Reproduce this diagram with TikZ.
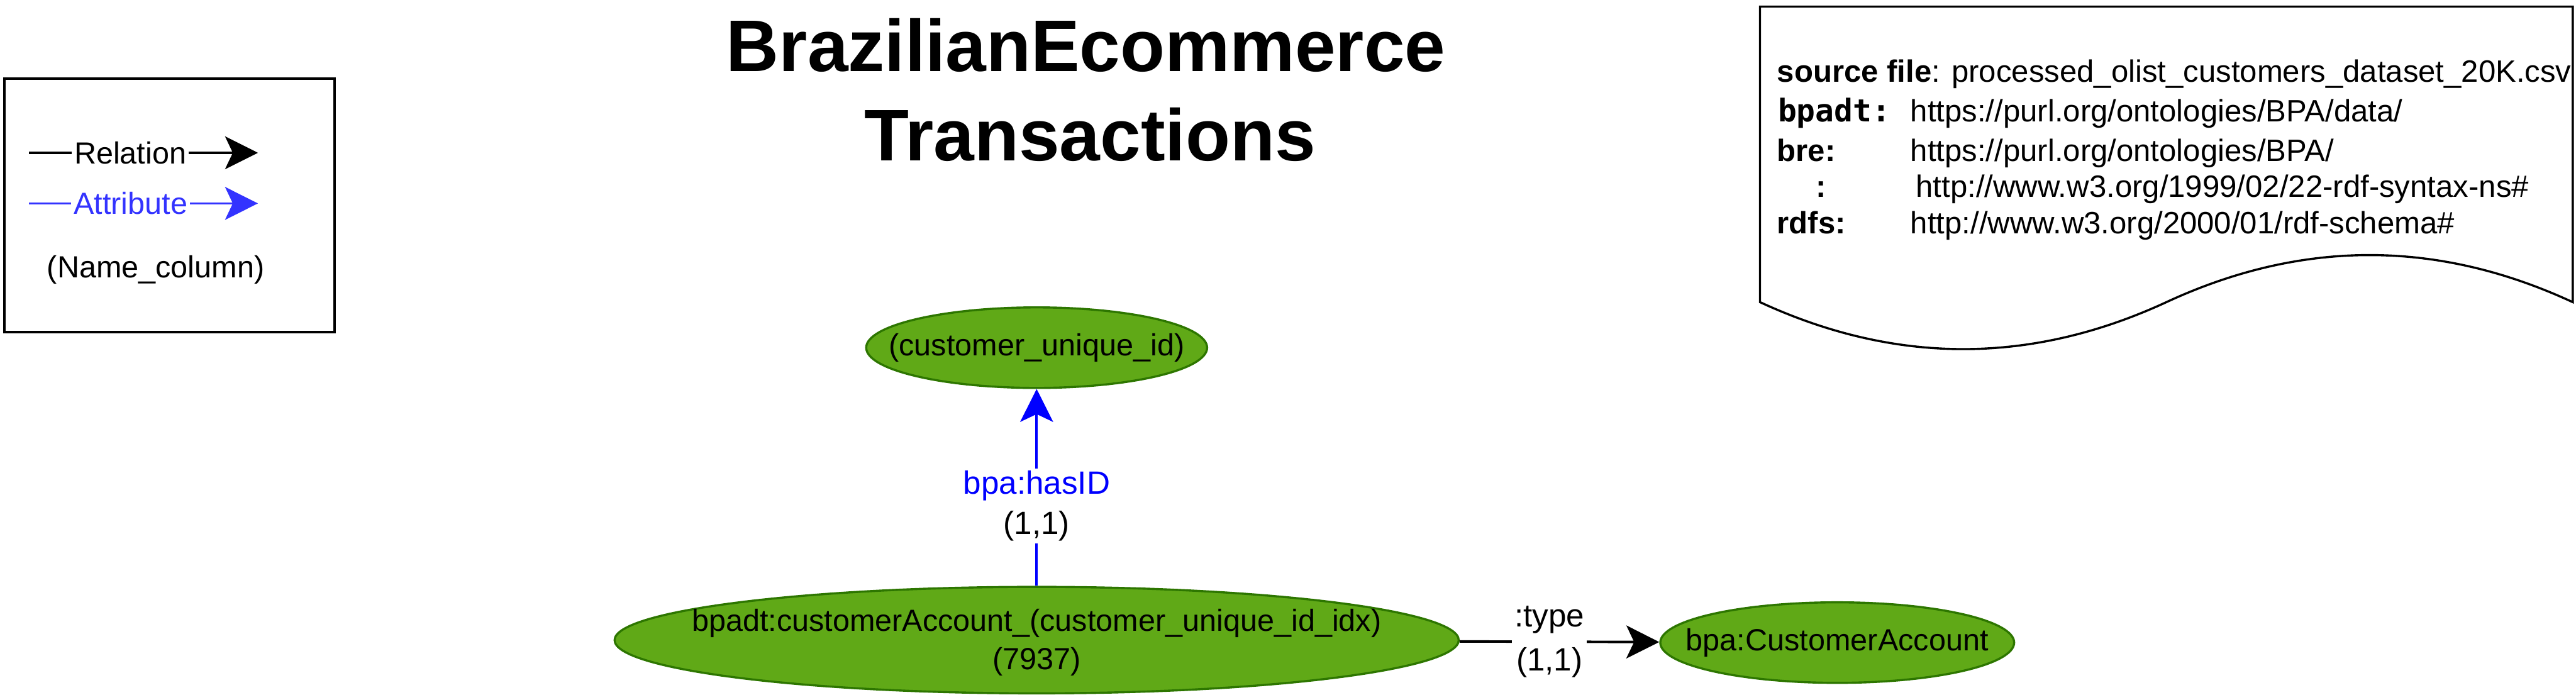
\documentclass[tikz,border=0pt]{standalone}
\usepackage{fontspec}
\setmainfont{Liberation Sans}
\newfontfamily\monofnt{DejaVu Sans Mono}
\usetikzlibrary{arrows.meta,shapes.geometric}
\definecolor{entfill}{HTML}{60A917}
\definecolor{entline}{HTML}{2D7600}
\definecolor{attrblue}{HTML}{0000FF}
\definecolor{legblue}{HTML}{3333FF}
\newcommand{\fsz}[1]{\fontsize{18.6}{#1}\selectfont}
\newcommand{\lsz}[1]{\fontsize{19.6}{#1}\selectfont}
\begin{document}
\begin{tikzpicture}[x=1pt,y=-1pt,
  ent/.style={ellipse, draw=entline, fill=entfill, line width=1.3pt, inner sep=0pt},
  etxt/.style={font=\fsz{23.3}, align=center, inner sep=0pt},
  arrtip/.style={-{Stealth[length=20pt,width=20pt,inset=4.7pt]}},
  relln/.style={arrtip, draw=black, line width=1.5pt},
  attrln/.style={arrtip, draw=attrblue, line width=1.5pt},
  lbl/.style={align=center, fill=white, inner xsep=1.5pt, inner ysep=1.5pt},
  legtxt/.style={font=\fsz{22}, fill=white, inner xsep=1.5pt, inner ysep=1pt},
  doctxt/.style={font=\fontsize{18.8}{22}\selectfont, anchor=base west, inner sep=0pt},
  titl/.style={font=\fontsize{44.5}{54}\selectfont\bfseries, anchor=base, inner sep=0pt},
]
\useasboundingbox (0,0) rectangle (1568,423);

% legend
\draw[line width=1.4pt] (2.8,47.9) rectangle (203.6,202);
\coordinate (rA) at (17.8,93);
\coordinate (rB) at (157,93);
\coordinate (aA) at (17.8,123.8);
\coordinate (aB) at (157,123.8);
\draw[arrtip, line width=1.3pt] (rA) -- node[legtxt, pos=0.442] (lrel) {Relation} (rB);
\draw[arrtip, line width=1.3pt, draw=legblue, fill=legblue] (aA) -- node[legtxt, pos=0.443, text=legblue] (latt) {Attribute} (aB);
\node[font=\fsz{22}, anchor=base, inner sep=0pt] (lname) at (94.8,169) {(Name\_column)};

% title
\node[titl] (t1) at (661,43.4) {BrazilianEcommerce};
\node[titl] (t2) at (663.5,97.9) {Transactions};

% document shape
\draw[line width=1.3pt, fill=white]
  (1071.3,4) -- (1566,4) -- (1566,183.9)
  .. controls (1483.5,145.7) and (1401.1,145.7) .. (1318.65,183.9)
  .. controls (1236.2,222.0) and (1153.8,222.0) .. (1071.3,183.9) -- cycle;
\node[doctxt] (d1) at (1081.5,50.1) {\textbf{source file}: processed\_olist\_customers\_dataset\_20K.csv};
\node[doctxt] (d2k) at (1082,73.9) {\monofnt\bfseries\fontsize{19}{22}\selectfont bpadt:};
\node[doctxt] (d2v) at (1162.7,73.9) {https://purl.org/ontologies/BPA/data/};
\node[doctxt] (d3k) at (1081.5,98.3) {\textbf{bre:}};
\node[doctxt] (d3v) at (1162.7,98.3) {https://purl.org/ontologies/BPA/};
\node[doctxt] (d4k) at (1105,120.2) {\textbf{:}};
\node[doctxt] (d4v) at (1166,120.2) {http://www.w3.org/1999/02/22-rdf-syntax-ns\#};
\node[doctxt] (d5k) at (1081.5,142.1) {\textbf{rdfs:}};
\node[doctxt] (d5v) at (1162.7,142.1) {http://www.w3.org/2000/01/rdf-schema\#};

% entities
\node[ent, minimum width=207.5pt, minimum height=49pt] (uid) at (631,211.6) {};
\node[etxt] (uidt) at (uid.center) {(customer\_unique\_id)};
\node[ent, minimum width=513.8pt, minimum height=64.8pt] (acct) at (631,389.6) {};
\node[etxt] (acctt) at (631,391.1) {bpadt:customerAccount\_(customer\_unique\_id\_idx)\\(7937)};
\node[ent, minimum width=215.4pt, minimum height=49pt] (ca) at (1118.3,391.1) {};
\node[etxt] (cat) at (ca.center) {bpa:CustomerAccount};

% connectors
\draw[attrln, fill=attrblue] (acct) -- node[lbl, font=\lsz{24.5}, pos=0.406] (lhas) {\textcolor{attrblue}{bpa:hasID}\\(1,1)} (uid);
\draw[relln, fill=black] (acct) -- node[lbl, font=\lsz{27}, pos=0.45] (ltype) {:type\\(1,1)} (ca);
\end{tikzpicture}
\end{document}
